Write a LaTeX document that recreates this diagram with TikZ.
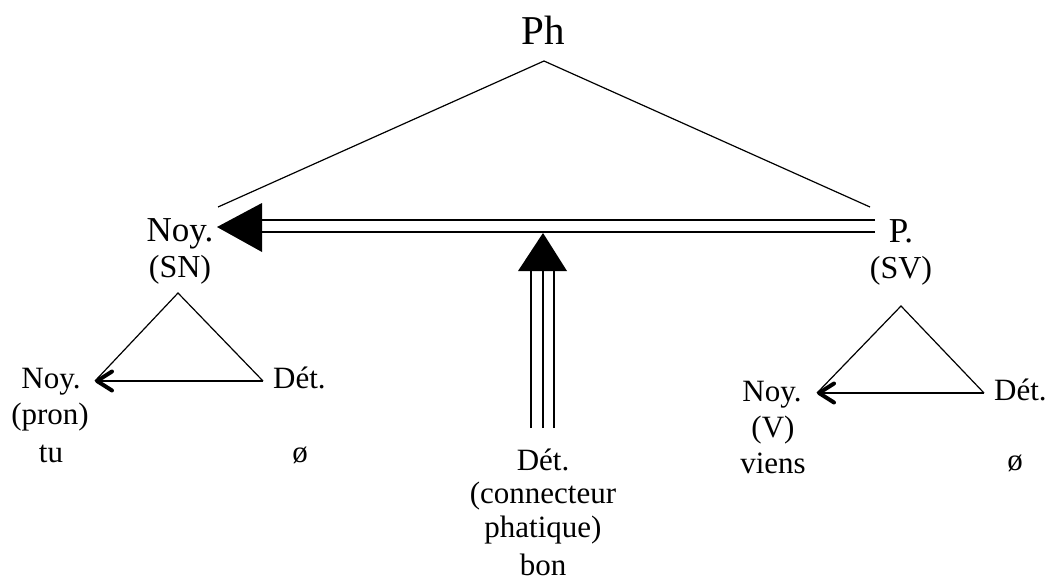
\documentclass[tikz,border=0pt]{standalone}
\usepackage{fontspec}
\setmainfont{Liberation Serif}
\usetikzlibrary{arrows.meta}
\begin{document}
\begin{tikzpicture}[x=1pt,y=-1pt,
  lbl/.style={inner sep=0pt,anchor=base},
  fsPh/.style={font=\fontsize{41}{45}\selectfont},
  fsTop/.style={font=\fontsize{35}{40}\selectfont},
  fsSub/.style={font=\fontsize{32}{36}\selectfont},
  fsLow/.style={font=\fontsize{31}{35}\selectfont},
  edge/.style={line width=1.2pt},
  headfill/.style={fill=black},
  lowarrow/.style={line width=1.2pt,-{Straight Barb[length=15pt,width=19pt,line width=4pt,round]}}]
\useasboundingbox (0,0) rectangle (1051,581);

% top level
\node[lbl,fsPh] (ph) at (543,44) {Ph};
\coordinate (apex) at (544,61);
\coordinate (snTop) at (218,207);
\coordinate (svTop) at (870,207);
\draw[edge] (snTop) -- (apex) -- (svTop);

\node[lbl,fsTop] (noy) at (180,241) {Noy.};
\node[lbl,fsSub] (sn) at (180,277) {(SN)};
\node[lbl,fsTop] (p) at (901,242) {P.};
\node[lbl,fsSub] (sv) at (901,278) {(SV)};

% double arrow P. -> Noy.
\coordinate (dStart) at (875,226);
\coordinate (dEnd) at (262,226);
\coordinate (dTip) at (217,227);
\draw[edge] ([yshift=-6pt]dStart) -- ([yshift=-6pt]dEnd);
\draw[edge] ([yshift=6pt]dStart) -- ([yshift=6pt]dEnd);
\fill[headfill] (dTip) -- (262,203) -- (262,252) -- cycle;

% triple arrow from the phatic connector
\coordinate (tStart) at (543,428);
\coordinate (tEnd) at (543,271);
\coordinate (tTip) at (543,233);
\draw[edge] ([xshift=-12pt]tStart) -- ([xshift=-12pt]tEnd);
\draw[edge] (tStart) -- (tEnd);
\draw[edge] ([xshift=11pt]tStart) -- ([xshift=11pt]tEnd);
\fill[headfill] (tTip) -- (518,271) -- (567,271) -- cycle;

\node[lbl,fsLow] (detc) at (543,470) {Dét.};
\node[lbl,fsLow] (conn) at (543,503) {(connecteur};
\node[lbl,fsLow] (phat) at (543,537) {phatique)};
\node[lbl,fsLow] (bon) at (543,575) {bon};

% left subtree (SN)
\coordinate (lA) at (178,293);
\coordinate (lL) at (95,381);
\coordinate (lR) at (263,381);
\draw[edge] (lL) -- (lA) -- (lR);
\draw[lowarrow] (lR) -- (lL);
\node[lbl,fsLow] (lnoy) at (51,388) {Noy.};
\node[lbl,fsLow] (lpron) at (50,424) {(pron)};
\node[lbl,fsLow] (ltu) at (51,462) {tu};
\node[lbl,fsLow,anchor=base west] (ldet) at (273,388) {Dét.};
\node[lbl,fsLow] (lzero) at (300,462) {ø};

% right subtree (SV)
\coordinate (rA) at (901,306);
\coordinate (rL) at (817,393);
\coordinate (rR) at (984,393);
\draw[edge] (rL) -- (rA) -- (rR);
\draw[lowarrow] (rR) -- (rL);
\node[lbl,fsLow] (rnoy) at (772,401) {Noy.};
\node[lbl,fsLow] (rv) at (773,437) {(V)};
\node[lbl,fsLow] (rviens) at (773,473) {viens};
\node[lbl,fsLow,anchor=base west] (rdet) at (994,400) {Dét.};
\node[lbl,fsLow] (rzero) at (1015,470) {ø};
\end{tikzpicture}
\end{document}
